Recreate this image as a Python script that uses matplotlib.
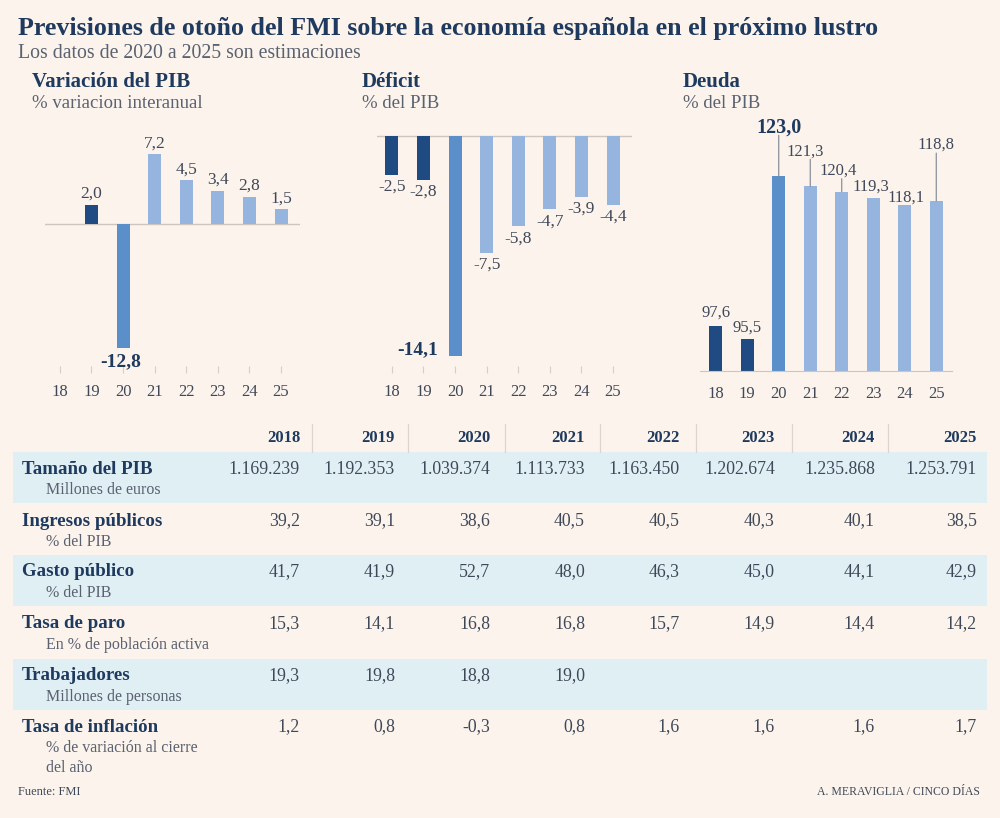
import numpy as np
import matplotlib
matplotlib.use('Agg')
import matplotlib.pyplot as plt
from matplotlib.patches import Rectangle

# ---------------- data ----------------
years_short = ['18', '19', '20', '21', '22', '23', '24', '25']
years_full = ['2018', '2019', '2020', '2021', '2022', '2023', '2024', '2025']

pib_var = [np.nan, 2.0, -12.8, 7.2, 4.5, 3.4, 2.8, 1.5]
deficit = [-2.5, -2.8, -14.1, -7.5, -5.8, -4.7, -3.9, -4.4]
deuda = [97.6, 95.5, 123.0, 121.3, 120.4, 119.3, 118.1, 118.8]

row_labels = ['Tamaño del PIB', 'Ingresos públicos', 'Gasto público',
              'Tasa de paro', 'Trabajadores', 'Tasa de inflación']
row_units = ['Millones de euros', '% del PIB', '% del PIB',
             'En % de población activa', 'Millones de personas',
             '% de variación al cierre\ndel año']
tamano_pib = [1169239, 1192353, 1039374, 1113733, 1163450, 1202674, 1235868, 1253791]
ingresos = [39.2, 39.1, 38.6, 40.5, 40.5, 40.3, 40.1, 38.5]
gasto = [41.7, 41.9, 52.7, 48.0, 46.3, 45.0, 44.1, 42.9]
paro = [15.3, 14.1, 16.8, 16.8, 15.7, 14.9, 14.4, 14.2]
trabajadores = [19.3, 19.8, 18.8, 19.0, None, None, None, None]
inflacion = [1.2, 0.8, -0.3, 0.8, 1.6, 1.6, 1.6, 1.7]

# ---------------- style ----------------
W, H = 1000, 818
BG = '#fcf4ec'
BAND = '#e0eff4'
NAVY = '#1f3a5f'
TXT = '#3f4859'
GRAY = '#5a6170'
C_HIST = '#1f4b82'
C_2020 = '#5b8fca'
C_FCST = '#96b5de'
bar_colors = [C_HIST, C_HIST, C_2020, C_FCST, C_FCST, C_FCST, C_FCST, C_FCST]
FONT = 'Liberation Serif'
plt.rcParams['font.family'] = [FONT, 'DejaVu Serif']

fig = plt.figure(figsize=(W / 100, H / 100), dpi=100)
fig.patch.set_facecolor(BG)

bg = fig.add_axes([0, 0, 1, 1])
bg.set_xlim(0, W)
bg.set_ylim(H, 0)
bg.axis('off')
bg.set_zorder(0)


def px_axes(left, top, right, bottom):
    a = fig.add_axes([left / W, 1 - bottom / H, (right - left) / W, (bottom - top) / H])
    a.patch.set_alpha(0)
    for s in a.spines.values():
        s.set_visible(False)
    a.set_yticks([])
    return a


def dec(v):
    return f"{v:.1f}".replace('.', ',')


def thousands(v):
    return f"{v:,}".replace(',', '.')


# ---------------- titles ----------------
bg.text(18, 28, 'Previsiones de otoño del FMI sobre la economía española en el próximo lustro',
        fontsize=18.7, fontweight='bold', color=NAVY, va='center', ha='left')
bg.text(18, 53, 'Los datos de 2020 a 2025 son estimaciones', fontsize=14.2, color=GRAY,
        va='center', ha='left')

panel_titles = [('Variación del PIB', '% variacion interanual', 32),
                ('Déficit', '% del PIB', 362),
                ('Deuda', '% del PIB', 683)]
for t, s, xp in panel_titles:
    bg.text(xp, 82, t, fontsize=15, fontweight='bold', color=NAVY, va='center', ha='left')
    bg.text(xp, 104, s, fontsize=13.5, color=GRAY, va='center', ha='left')

x = np.arange(len(years_short))
BW = 0.41

# ---------------- chart 1: PIB ----------------
ax1 = px_axes(45, 120, 300, 366)
s1 = 9.7
ax1.set_xlim(-0.47, 7.6)
ax1.set_ylim(-(366 - 224) / s1, (224 - 120) / s1)
vals1 = np.array(pib_var, dtype=float)
ok = ~np.isnan(vals1)
ax1.bar(x[ok], vals1[ok], width=BW, color=[c for c, o in zip(bar_colors, ok) if o], zorder=2)
ax1.axhline(0, color='#cdc5be', lw=1, zorder=1)
for i, v in enumerate(vals1):
    if np.isnan(v):
        continue
    if i == 2:
        ax1.annotate(dec(v), (i, v), xytext=(-2, -14), textcoords='offset pixels',
                     ha='center', va='center', fontsize=14, fontweight='bold', color=NAVY)
    else:
        ax1.annotate(dec(v), (i, v), xytext=(0, 11 if v > 0 else -12), textcoords='offset pixels',
                     ha='center', va='center', fontsize=12.5, color=TXT)

# ---------------- chart 2: Déficit ----------------
ax2 = px_axes(377, 120, 632, 366)
s2 = 15.6
ax2.set_xlim(-0.47, 7.6)
ax2.set_ylim(-(366 - 136) / s2, (136 - 120) / s2)
ax2.bar(x, deficit, width=BW, color=bar_colors, zorder=2)
ax2.axhline(0, color='#cdc5be', lw=1, zorder=1)
for i, v in enumerate(deficit):
    if i == 2:
        ax2.annotate(dec(v), (i, v), xytext=(-17, 6), textcoords='offset pixels',
                     ha='right', va='center', fontsize=14, fontweight='bold', color=NAVY)
    else:
        ax2.annotate(dec(v), (i, v), xytext=(0, -12), textcoords='offset pixels',
                     ha='center', va='center', fontsize=12.5, color=TXT)

for a in (ax1, ax2):
    a.set_xticks(x)
    a.set_xticklabels(years_short)
    a.tick_params(axis='x', length=5, width=0.8, color='#d6cec7', pad=8,
                  labelsize=12, labelcolor=TXT)

# ---------------- chart 3: Deuda ----------------
ax3 = px_axes(700, 100, 952, 371)
s3 = 5.9
ax3.set_xlim(-0.5, 7.5)
ax3.set_ylim(90, 90 + (371 - 100) / s3)
ax3.bar(x, deuda, width=BW, color=bar_colors, zorder=2)
ax3.spines['bottom'].set_visible(True)
ax3.spines['bottom'].set_color('#cdc5be')
ax3.set_xticks(x)
ax3.set_xticklabels(years_short)
ax3.tick_params(axis='x', length=0, pad=11, labelsize=12, labelcolor=TXT)
lab_dy = [14, 11, 49, 35, 21, 11, 8, 56]
lab_dx = [0, 0, 0, -5, -4, -2, 1, 0]
for i, v in enumerate(deuda):
    dy, dx = lab_dy[i], lab_dx[i]
    if dy > 15:
        ax3.annotate('', xy=(i, v), xytext=(0, dy - 8), textcoords='offset pixels',
                     arrowprops=dict(arrowstyle='-', color='#7d838f', lw=0.8,
                                     shrinkA=0, shrinkB=0))
    if i == 2:
        ax3.annotate(dec(v), (i, v), xytext=(dx, dy), textcoords='offset pixels',
                     ha='center', va='center', fontsize=14.5, fontweight='bold', color=NAVY)
    else:
        ax3.annotate(dec(v), (i, v), xytext=(dx, dy), textcoords='offset pixels',
                     ha='center', va='center', fontsize=12, color=TXT)

# ---------------- table ----------------
col_x = [300, 395, 490, 585, 680, 775, 875, 977]
sep_x = [312, 408, 505, 600, 696, 792, 888]
for xx in sep_x:
    bg.plot([xx, xx], [424, 452], color='#ddd5cd', lw=0.9)
for xx, yr in zip(col_x, years_full):
    bg.text(xx, 438, yr, fontsize=12, fontweight='bold', color=NAVY, ha='right', va='center')

row_y = [469, 521, 572, 624, 676, 727]
table_rows = [
    [thousands(v) for v in tamano_pib],
    [dec(v) for v in ingresos],
    [dec(v) for v in gasto],
    [dec(v) for v in paro],
    [dec(v) if v is not None else '' for v in trabajadores],
    [dec(v) for v in inflacion],
]
for r, (y, lab, unit, vals) in enumerate(zip(row_y, row_labels, row_units, table_rows)):
    if r % 2 == 0:
        bg.add_patch(Rectangle((13, y - 17), 974, 51, facecolor=BAND, edgecolor='none', zorder=0))
    bg.text(22, y, lab, fontsize=13.6, fontweight='bold', color=NAVY, ha='left', va='center')
    for k, line in enumerate(unit.split('\n')):
        bg.text(46, y + 21 + 20 * k, line, fontsize=11.5, color=GRAY, ha='left', va='center')
    for xx, s in zip(col_x, vals):
        bg.text(xx, y, s, fontsize=12.8, color=TXT, ha='right', va='center')

bg.text(18, 792, 'Fuente: FMI', fontsize=9, color=TXT, ha='left', va='center')
bg.text(980, 792, 'A. MERAVIGLIA / CINCO DÍAS', fontsize=8.5, color=TXT, ha='right', va='center')

fig.savefig('out.png', dpi=100, facecolor=BG)
